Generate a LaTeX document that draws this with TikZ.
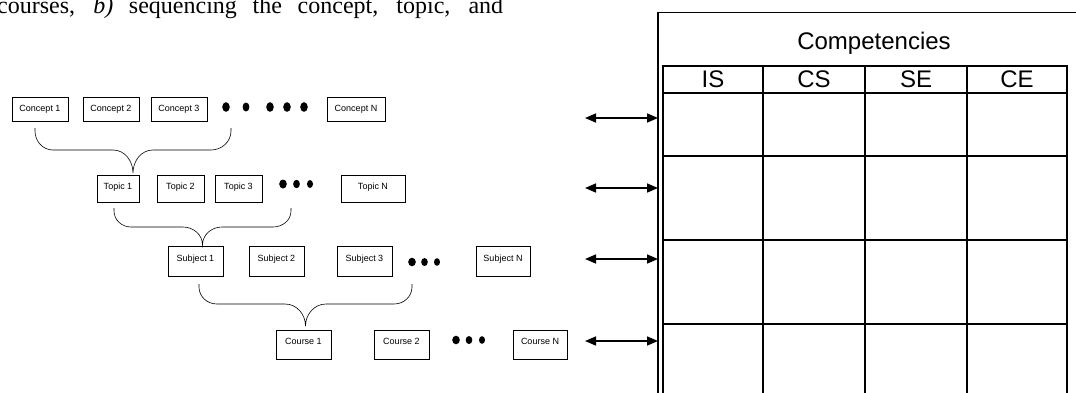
\documentclass[tikz,border=0pt]{standalone}
\usepackage{fontspec}
\setmainfont{Liberation Serif}
\setsansfont{Liberation Sans}
\usetikzlibrary{arrows.meta}
\begin{document}
\begin{tikzpicture}[x=1pt,y=-1pt,
  box/.style={draw, line width=0.6pt, inner sep=0pt, anchor=center,
    font=\sffamily\fontsize{9}{10}\selectfont},
  brace/.style={draw, line width=0.6pt},
  dot/.style={fill=black},
  dbl/.style={line width=1.6pt, {Triangle[length=11pt,width=9pt]}-{Triangle[length=11pt,width=9pt]}},
  tbl/.style={line width=1.1pt},
  hdr/.style={font=\sffamily\fontsize{24}{24}\selectfont, inner sep=0pt, anchor=center}
]
\useasboundingbox (0,0) rectangle (1076,392);
\clip (0,0) rectangle (1076,392);
\fill[white] (0,0) rectangle (1076,392);

% top text line (fragment of surrounding paper)
\node[anchor=base west, inner sep=0pt, font=\fontsize{24}{24}\selectfont] (txt) at (-3,13)
  {\makebox[506pt][s]{courses, \textit{b)} sequencing the concept, topic, and}};

% Concept row
\node[box, minimum width=56, minimum height=24] (c1) at (40,109) {\raisebox{2pt}{Concept 1}};
\node[box, minimum width=56, minimum height=24] (c2) at (111,109) {\raisebox{2pt}{Concept 2}};
\node[box, minimum width=56, minimum height=24] (c3) at (179,109) {\raisebox{2pt}{Concept 3}};
\node[box, minimum width=58, minimum height=24] (cN) at (356,109) {\raisebox{2pt}{Concept N}};
\fill[dot] (226,107) ellipse [x radius=3.8pt, y radius=4.8pt];
\fill[dot] (246,107) ellipse [x radius=3.4pt, y radius=4.5pt];
\fill[dot] (270,107) ellipse [x radius=3.8pt, y radius=4.8pt];
\fill[dot] (287,107) ellipse [x radius=3.8pt, y radius=4.8pt];
\fill[dot] (304,107) ellipse [x radius=3.8pt, y radius=4.8pt];

% Topic row
\node[box, minimum width=42, minimum height=27] (t1) at (118,188.5) {\raisebox{4pt}{Topic 1}};
\node[box, minimum width=47, minimum height=27] (t2) at (180.5,188.5) {\raisebox{4pt}{Topic 2}};
\node[box, minimum width=47, minimum height=27] (t3) at (238.5,188.5) {\raisebox{4pt}{Topic 3}};
\node[box, minimum width=64, minimum height=27] (tN) at (373,188.5) {\raisebox{4pt}{Topic N}};
\fill[dot] (283,184) ellipse [x radius=3.8pt, y radius=4.5pt];
\fill[dot] (296.5,184) ellipse [x radius=3.4pt, y radius=4.2pt];
\fill[dot] (310,184) ellipse [x radius=3pt, y radius=4pt];

% Subject row
\node[box, minimum width=55, minimum height=30] (s1) at (195.5,261) {\raisebox{6pt}{Subject 1}};
\node[box, minimum width=55, minimum height=30] (s2) at (276.5,261) {\raisebox{6pt}{Subject 2}};
\node[box, minimum width=55, minimum height=30] (s3) at (364.5,261) {\raisebox{6pt}{Subject 3}};
\node[box, minimum width=54, minimum height=30] (sN) at (503,261) {\raisebox{6pt}{Subject N}};
\fill[dot] (412,262) ellipse [x radius=3.8pt, y radius=4.3pt];
\fill[dot] (424.5,262) ellipse [x radius=3.3pt, y radius=4pt];
\fill[dot] (437,262) ellipse [x radius=3pt, y radius=3.8pt];

% Course row
\node[box, minimum width=55, minimum height=29] (k1) at (303.5,344.5) {\raisebox{6pt}{Course 1}};
\node[box, minimum width=55, minimum height=29] (k2) at (401.5,344.5) {\raisebox{6pt}{Course 2}};
\node[box, minimum width=54, minimum height=29] (kN) at (540,344.5) {\raisebox{6pt}{Course N}};
\fill[dot] (456,340) ellipse [x radius=3.8pt, y radius=4.3pt];
\fill[dot] (469,340) ellipse [x radius=3.3pt, y radius=4pt];
\fill[dot] (482,340) ellipse [x radius=3pt, y radius=3.8pt];

% Braces
\draw[brace] (35,128) -- (35,131) to[out=-90,in=180] (53,150) -- (113,150)
  to[out=0,in=90] (133,173) to[out=90,in=180] (153,150) -- (211,150)
  to[out=0,in=-90] (231,131) -- (231,128);
\draw[brace] (114,208) -- (114,211) to[out=-90,in=180] (131,227) -- (183,227)
  to[out=0,in=90] (202.5,245) to[out=90,in=180] (222,227) -- (273,227)
  to[out=0,in=-90] (291,211) -- (291,208);
\draw[brace] (199,284) -- (199,287) to[out=-90,in=180] (217,304) -- (285,304)
  to[out=0,in=90] (305.5,326) to[out=90,in=180] (326,304) -- (394,304)
  to[out=0,in=-90] (412,287) -- (412,284);

% Competencies frame and table
\draw[tbl] (658,12.5) rectangle (1100,430);
\draw[tbl] (663,66) rectangle (1067,430);
\foreach \yy in {93,156,240,324,408} \draw[tbl] (663,\yy) -- (1067,\yy);
\foreach \xx in {763,865,967} \draw[tbl] (\xx,66) -- (\xx,430);
\node[hdr] (comp) at (874,43) {Competencies};
\node[hdr] (is) at (713,79.5) {IS};
\node[hdr] (cs) at (814,79.5) {CS};
\node[hdr] (se) at (916,79.5) {SE};
\node[hdr] (ce) at (1017,79.5) {CE};

% Double arrows between levels and competencies
\coordinate (a1L) at (585,118); \coordinate (a1R) at (658,118);
\coordinate (a2L) at (585,188); \coordinate (a2R) at (658,188);
\coordinate (a3L) at (585,259); \coordinate (a3R) at (658,259);
\coordinate (a4L) at (585,341); \coordinate (a4R) at (658,341);
\draw[dbl] (a1L) -- (a1R);
\draw[dbl] (a2L) -- (a2R);
\draw[dbl] (a3L) -- (a3R);
\draw[dbl] (a4L) -- (a4R);
\end{tikzpicture}
\end{document}
